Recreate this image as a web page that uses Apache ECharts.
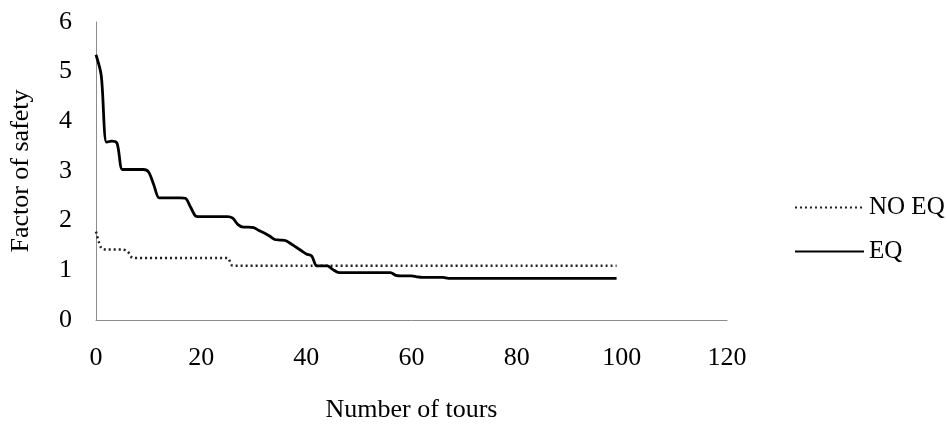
<!DOCTYPE html>
<html>
<head>
<meta charset="utf-8">
<script src="https://cdn.jsdelivr.net/npm/echarts@6/dist/echarts.min.js"></script>
<style>
html,body{margin:0;padding:0;background:#fff;}
#chart{width:947px;height:428px;}
</style>
</head>
<body>
<div id="chart"></div>
<script>
var tours = [0,1,2,3,4,5,6,7,8,9,10,11,12,13,14,15,16,17,18,19,20,21,22,23,24,25,26,27,28,29,30,31,32,33,34,35,36,37,38,39,40,41,42,43,44,45,46,47,48,49,50,51,52,53,54,55,56,57,58,59,60,61,62,63,64,65,66,67,68,69,70,71,72,73,74,75,76,77,78,79,80,81,82,83,84,85,86,87,88,89,90,91,92,93,94,95,96,97,98,99];

var eqValues = [5.34,4.92,3.58,3.60,3.56,3.03,3.03,3.03,3.03,3.03,2.98,2.72,2.46,2.46,2.46,2.46,2.46,2.45,2.27,2.09,2.08,2.08,2.08,2.08,2.08,2.08,2.05,1.92,1.87,1.87,1.86,1.80,1.75,1.69,1.62,1.61,1.60,1.54,1.47,1.40,1.33,1.29,1.09,1.09,1.09,1.02,0.96,0.955,0.955,0.955,0.955,0.955,0.955,0.955,0.955,0.955,0.955,0.90,0.89,0.89,0.89,0.87,0.857,0.857,0.857,0.857,0.857,0.84,0.84,0.84,0.84,0.84,0.84,0.84,0.84,0.84,0.84,0.84,0.84,0.84,0.84,0.84,0.84,0.84,0.84,0.84,0.84,0.84,0.84,0.84,0.84,0.84,0.84,0.84,0.84,0.84,0.84,0.84,0.84,0.84];

var noEqValues = [1.78,1.45,1.42,1.42,1.42,1.42,1.38,1.25,1.25,1.25,1.25,1.25,1.25,1.25,1.25,1.25,1.25,1.25,1.25,1.25,1.25,1.25,1.25,1.25,1.25,1.25,1.09,1.09,1.09,1.09,1.09,1.09,1.09,1.09,1.09,1.09,1.09,1.09,1.09,1.09,1.09,1.09,1.09,1.09,1.09,1.09,1.09,1.09,1.09,1.09,1.09,1.09,1.09,1.09,1.09,1.09,1.09,1.09,1.09,1.09,1.09,1.09,1.09,1.09,1.09,1.09,1.09,1.09,1.09,1.09,1.09,1.09,1.09,1.09,1.09,1.09,1.09,1.09,1.09,1.09,1.09,1.09,1.09,1.09,1.09,1.09,1.09,1.09,1.09,1.09,1.09,1.09,1.09,1.09,1.09,1.09,1.09,1.09,1.09,1.09];

var seriesNames = ['NO EQ', 'EQ'];
var xAxisTitle = 'Number of tours';
var yAxisTitle = 'Factor of safety';

function pairs(xs, ys){ return xs.map(function(x,i){ return [x, ys[i]]; }); }

var font = '"Liberation Serif","Times New Roman",serif';
var fs = 26;
var chart = echarts.init(document.getElementById('chart'), null, {renderer:'canvas'});
chart.setOption({
  backgroundColor: '#ffffff',
  animation: false,
  textStyle: {fontFamily: font, color: '#000'},
  grid: {left: 95, right: 220, top: 22, bottom: 105, containLabel: false},
  legend: {
    orient: 'vertical',
    left: 789,
    top: 190,
    itemWidth: 69,
    itemHeight: 14,
    itemGap: 19,
    data: seriesNames,
    itemStyle: {opacity: 0},
    textStyle: {fontFamily: font, fontSize: 25, color: '#000', padding: [0,0,0,0]}
  },
  xAxis: {
    type: 'value',
    min: 0, max: 120, interval: 20,
    name: xAxisTitle,
    nameLocation: 'middle',
    nameGap: 77,
    nameTextStyle: {fontFamily: font, fontSize: fs, color: '#000'},
    axisLine: {show: true, lineStyle: {color: '#8c8c8c', width: 1}},
    axisTick: {show: false},
    splitLine: {show: false},
    axisLabel: {fontFamily: font, fontSize: fs, color: '#000', margin: 25}
  },
  yAxis: {
    type: 'value',
    min: 0, max: 6, interval: 1,
    name: yAxisTitle,
    nameLocation: 'middle',
    nameRotate: 90,
    nameGap: 62,
    nameTextStyle: {fontFamily: font, fontSize: fs, color: '#000'},
    axisLine: {show: true, lineStyle: {color: '#8c8c8c', width: 1}},
    axisTick: {show: false},
    splitLine: {show: false},
    axisLabel: {fontFamily: font, fontSize: fs, color: '#000', margin: 24}
  },
  series: [
    {
      name: seriesNames[0],
      type: 'line',
      data: pairs(tours, noEqValues),
      smooth: 0.3,
      symbol: 'none',
      lineStyle: {color: '#222', width: 2.5, type: [2, 3]},
      itemStyle: {color: '#222'}
    },
    {
      name: seriesNames[1],
      type: 'line',
      data: pairs(tours, eqValues),
      smooth: 0.3,
      symbol: 'none',
      lineStyle: {color: '#000', width: 2.8, type: 'solid'},
      itemStyle: {color: '#000'}
    }
  ]
});
</script>
</body>
</html>
